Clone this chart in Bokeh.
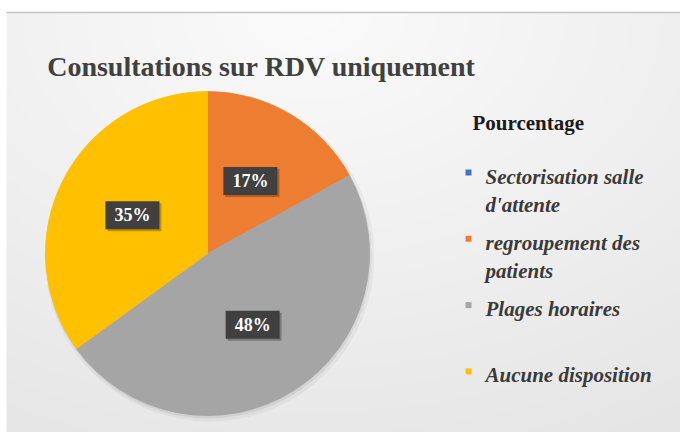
import numpy as np
from bokeh.plotting import figure
from bokeh.models import ColumnDataSource, Range1d
from bokeh.core.properties import value
from bokeh.embed import file_html
from bokeh.resources import INLINE

# ---- data ----
title_text = "Consultations sur RDV uniquement"
legend_title = "Pourcentage"
categories = ["Sectorisation salle\nd'attente", "regroupement des\npatients",
              "Plages horaires", "Aucune disposition"]
percentages = [0, 17, 48, 35]
colors = ["#4472C4", "#ED7D31", "#A5A5A5", "#FFC000"]

SERIF = value("'Liberation Serif', 'Times New Roman', Times, serif")

# ---- figure (pixel-like data space) ----
W, H = 680, 432
p = figure(width=W, height=H, x_range=Range1d(0, W), y_range=Range1d(0, H),
           output_backend="svg", toolbar_location=None, min_border=0,
           x_axis_location=None, y_axis_location=None)
p.grid.visible = False
p.outline_line_color = None
p.background_fill_color = "white"
p.border_fill_color = "white"

# ---- soft gradient background of the chart area ----
FX0, FH = 6, 420
ny, nx = 105, 168
yy, xx = np.mgrid[0:ny, 0:nx]
fx = (xx + 0.5) / nx
fy = 1.0 - (yy + 0.5) / ny
d = np.sqrt((fx - 0.45) ** 2 + (fy * 0.9) ** 2)
g = np.clip(251 - 21 * d, 225, 255).astype(np.uint8)
img = np.empty((ny, nx), dtype=np.uint32)
view = img.view(dtype=np.uint8).reshape((ny, nx, 4))
view[..., 0] = g
view[..., 1] = g
view[..., 2] = g
view[..., 3] = 255
p.image_rgba(image=[img], x=FX0, y=0, dw=W - FX0, dh=FH)
p.segment(x0=[FX0], y0=[FH], x1=[W], y1=[FH], line_color="#c4c4c4", line_width=1.5)

# ---- pie ----
cx, cy, R = 207, 179, 162
vals = np.array(percentages, dtype=float)
frac = vals / vals.sum()
cum = np.concatenate([[0.0], np.cumsum(frac)])
start = np.pi / 2 - 2 * np.pi * cum[:-1]
end = np.pi / 2 - 2 * np.pi * cum[1:]
mask = frac > 0

# shadow
p.circle(x=[cx + 2], y=[cy - 3], radius=R + 3, fill_color="black", fill_alpha=0.04, line_color=None)
p.circle(x=[cx + 1], y=[cy - 2], radius=R + 1, fill_color="black", fill_alpha=0.06, line_color=None)

wsrc = ColumnDataSource(dict(
    start=start[mask], end=end[mask],
    color=[c for c, m in zip(colors, mask) if m]))
p.wedge(x=cx, y=cy, radius=R, start_angle="start", end_angle="end",
        direction="clock", fill_color="color", line_color="color",
        line_width=0.8, source=wsrc)

# data labels
mid = (cum[:-1] + cum[1:]) / 2
ang = np.pi / 2 - 2 * np.pi * mid
lx = cx + 0.52 * R * np.cos(ang)
ly = cy + 0.52 * R * np.sin(ang)
lsrc = ColumnDataSource(dict(
    x=lx[mask], y=ly[mask],
    sx=lx[mask] + 2, sy=ly[mask] - 2,
    text=[f"{int(v)}%" for v, m in zip(percentages, mask) if m]))
p.rect(x="sx", y="sy", width=54, height=28, fill_color="black", fill_alpha=0.25,
       line_color=None, source=lsrc)
p.rect(x="x", y="y", width=54, height=28, fill_color="#404040",
       line_color=None, source=lsrc)
p.text(x="x", y="y", text="text", text_color="white", text_font=SERIF,
       text_font_style="bold", text_font_size="18px", text_align="center",
       text_baseline="middle", source=lsrc)

# ---- title ----
p.text(x=[261], y=[366], text=[title_text], text_color="#404040",
       text_font=SERIF, text_font_style="bold",
       text_font_size="28px", text_align="center", text_baseline="middle")

# ---- legend (manual) ----
p.text(x=[472], y=[310], text=[legend_title], text_color="#1a1a1a",
       text_font=SERIF, text_font_style="bold",
       text_font_size="21px", text_align="left", text_baseline="middle")

item_y = [256 - 66.3 * i for i in range(len(categories))]
msrc = ColumnDataSource(dict(x=[468] * len(categories), y=[y + 4 for y in item_y], color=colors))
p.rect(x="x", y="y", width=6, height=6, fill_color="color", line_color=None, source=msrc)

tx, ty, tt = [], [], []
for y0, cat in zip(item_y, categories):
    for k, line in enumerate(cat.split("\n")):
        tx.append(485)
        ty.append(y0 - 28 * k)
        tt.append(line)
tsrc = ColumnDataSource(dict(x=tx, y=ty, text=tt))
p.text(x="x", y="y", text="text", text_color="#3a3a3a",
       text_font=SERIF, text_font_style="bold italic",
       text_font_size="21px", text_align="left", text_baseline="middle", source=tsrc)

open("out.html", "w").write(file_html(p, INLINE))
